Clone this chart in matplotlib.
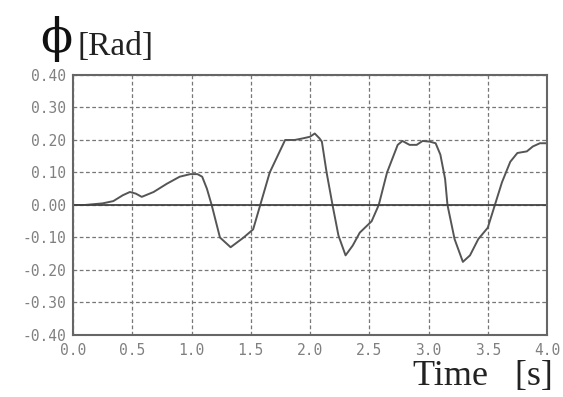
import matplotlib
matplotlib.use("Agg")
import matplotlib.pyplot as plt

time_s = [0.0, 0.1, 0.25, 0.34, 0.42, 0.48, 0.53, 0.58, 0.68, 0.79, 0.9, 0.99, 1.05, 1.09,
          1.13, 1.17, 1.24, 1.33, 1.44, 1.52, 1.58, 1.66, 1.79, 1.87, 1.94, 2.0, 2.04, 2.08,
          2.1, 2.14, 2.19, 2.24, 2.3, 2.36, 2.42, 2.52, 2.58, 2.65, 2.74, 2.78, 2.84, 2.9,
          2.95, 3.01, 3.06, 3.1, 3.14, 3.16, 3.22, 3.29, 3.35, 3.42, 3.5, 3.56, 3.62, 3.69,
          3.75, 3.83, 3.88, 3.94, 4.0]
phi_rad = [0.0, 0.0, 0.005, 0.012, 0.03, 0.04, 0.035, 0.025, 0.04, 0.065, 0.087, 0.095,
           0.095, 0.087, 0.05, 0.0, -0.1, -0.13, -0.10, -0.075, 0.0, 0.1, 0.2, 0.2, 0.205,
           0.21, 0.22, 0.205, 0.195, 0.1, 0.0, -0.094, -0.155, -0.125, -0.085, -0.05, 0.0,
           0.1, 0.185, 0.197, 0.185, 0.185, 0.197, 0.195, 0.19, 0.155, 0.08, 0.0, -0.105,
           -0.175, -0.155, -0.105, -0.07, 0.0, 0.07, 0.133, 0.16, 0.165, 0.18, 0.19, 0.19]

x_ticks = [0.0, 0.5, 1.0, 1.5, 2.0, 2.5, 3.0, 3.5, 4.0]
y_ticks = [-0.4, -0.3, -0.2, -0.1, 0.0, 0.1, 0.2, 0.3, 0.4]

fig = plt.figure(figsize=(5.63, 3.97), dpi=100)
ax = fig.add_axes([0.1297, 0.1562, 0.9716 - 0.1297, 0.8111 - 0.1562])

ax.plot(time_s, phi_rad, color="#555555", lw=1.4)
ax.axhline(0.0, color="#444444", lw=1.3)

ax.set_xlim(0, 4)
ax.set_ylim(-0.4, 0.4)
ax.set_xticks(x_ticks)
ax.set_yticks(y_ticks)
ax.set_xticklabels([f"{v:.1f}" for v in x_ticks])
ax.set_yticklabels([f"{v:.2f}" for v in y_ticks])
ax.tick_params(length=0, labelsize=10.5, labelcolor="#808080")
ax.tick_params(axis="x", pad=6)
ax.tick_params(axis="y", pad=5)
for lab in ax.get_xticklabels() + ax.get_yticklabels():
    lab.set_family("DejaVu Sans Mono")
ax.grid(True, color="#777777", ls=(0, (3, 2)), lw=0.9)
for s in ax.spines.values():
    s.set_color("#666666")
    s.set_linewidth(1.5)

fig.text(0.071, 0.87, "\u03d5", fontsize=34, family=["DejaVu Serif"], color="#111111",
         ha="left", va="baseline")
fig.text(0.137, 0.862, "[Rad]", fontsize=24, family=["Liberation Serif"], color="#222222",
         ha="left", va="baseline")
fig.text(0.982, 0.03, "Time   [s]", fontsize=26, family=["Liberation Serif"],
         color="#222222", ha="right", va="baseline")

fig.savefig("out.png", dpi=100, facecolor="white")
